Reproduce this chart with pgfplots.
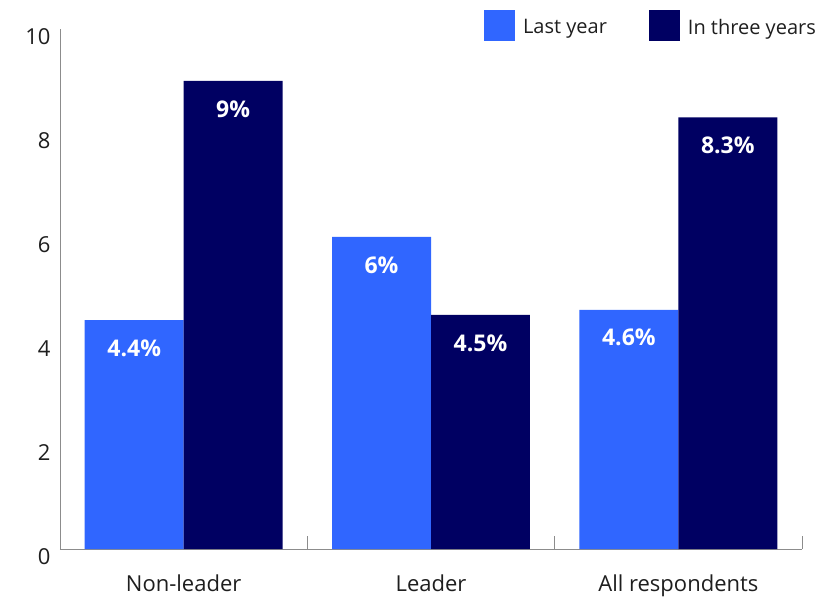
\documentclass[border=0pt]{standalone}
\usepackage{pgfplots}
\pgfplotsset{compat=1.18}
\usepackage{fontspec}
\setmainfont{Open Sans}
\definecolor{lightbar}{HTML}{3066FF}
\definecolor{darkbar}{HTML}{000062}
\definecolor{axgray}{HTML}{8C8C8C}
\definecolor{txt}{HTML}{1E1E1E}
\pgfplotsset{
  sq legend/.style={legend image code/.code={\fill[##1] (0bp,-14bp) rectangle (31bp,17bp);}},
}
\begin{document}
\begin{tikzpicture}[font=\fontsize{20bp}{24bp}\selectfont]
\begin{axis}[
    name=ax,
    scale only axis, width=742bp, height=520bp,
    xmin=-0.5, xmax=2.5, ymin=0, ymax=10,
    ybar=0pt, bar width=0.4,
    axis x line*=bottom, axis y line*=left,
    axis line style={axgray, line width=0.8bp},
    xtick={0,1,2}, xticklabels={Non-leader, Leader, All respondents},
    minor xtick={-0.5,0.5,1.5,2.5},
    ytick={0,2,4,6,8,10},
    major tick length=0bp, minor tick length=13bp,
    xtick align=inside,
    minor tick style={axgray, line width=0.8bp},
    tick label style={text=txt, font=\fontsize{22bp}{26bp}\selectfont},
    /pgf/number format/assume math mode=true,
    xticklabel style={inner sep=0pt, yshift=-26bp},
    yticklabel style={xshift=-6bp, yshift=-8bp},
    legend style={at={(1.0216,1.0365)}, anchor=north east, draw=none, fill=none,
      inner sep=0pt, text=txt, column sep=6bp,
      /tikz/every even column/.append style={column sep=40bp}},
    legend columns=2,
    nodes near coords={\pgfmathprintnumber[assume math mode=true]{\pgfplotspointmeta}\%},
    every node near coord/.append style={white, font=\bfseries\fontsize{23bp}{27bp}\selectfont,
      anchor=center, yshift=-28bp},
  ]
  \addplot[draw=none, fill=lightbar, sq legend] coordinates {(0,4.4) (1,6) (2,4.6)};
  \addplot[draw=none, fill=darkbar, sq legend] coordinates {(0,9) (1,4.5) (2,8.3)};
  \legend{Last year, In three years}
\end{axis}
\pgfresetboundingbox
\path[use as bounding box] ([shift={(-60bp,-50bp)}]ax.south west) rectangle ([shift={(24bp,29bp)}]ax.north east);
\end{tikzpicture}
\end{document}
